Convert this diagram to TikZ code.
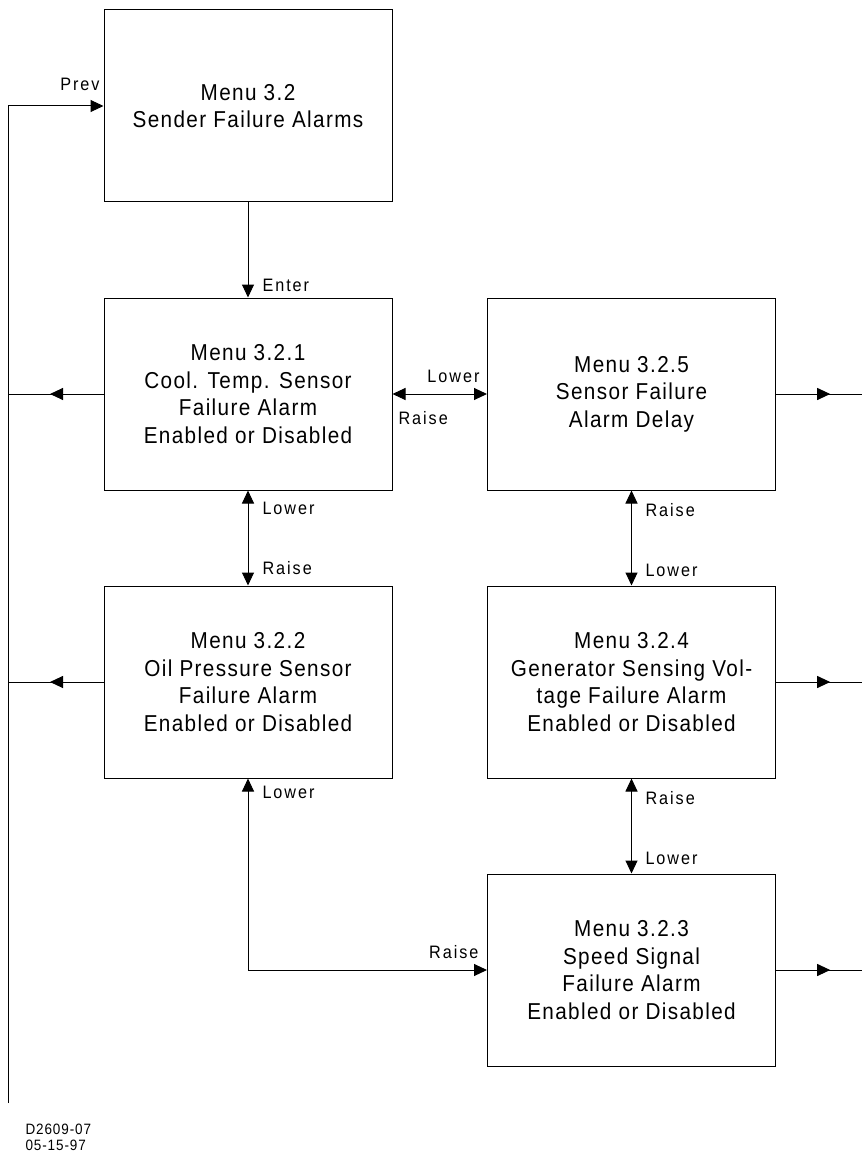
\documentclass[tikz,border=0pt]{standalone}
\usepackage{fontspec}
\usepackage{tikz}
\usetikzlibrary{arrows.meta,decorations.markings}
\newfontfamily\diagfont{Liberation Sans}[FakeStretch=0.9,LetterSpace=6]
\newfontfamily\keyfont{Liberation Sans}[FakeStretch=0.9,LetterSpace=11]

\tikzset{
  menubox/.style={draw,line width=1pt,minimum width=288pt,minimum height=192pt,inner sep=0pt,align=center,font=\diagfont\fontsize{23}{27.5}\selectfont},
  keylbl/.style={inner sep=0pt,font=\keyfont\fontsize{18}{20}\selectfont},
  outarrow/.style={decoration={markings,mark=at position #1 with {\arrow{Triangle[length=13pt,width=12pt]}}},postaction={decorate}}
}

\begin{document}
\begin{tikzpicture}[x=1pt,y=-1pt,line width=1pt,>={Triangle[length=13pt,width=12pt]}]
  \useasboundingbox (0,0) rectangle (862,1158);
  \node[menubox] (m32) at (248,106) {Menu 3.2\\Sender Failure Alarms};
  \node[menubox] (m321) at (248,394) {Menu 3.2.1\\Cool. Temp. Sensor\\Failure Alarm\\Enabled or Disabled};
  \node[menubox] (m322) at (248,682) {Menu 3.2.2\\Oil Pressure Sensor\\Failure Alarm\\Enabled or Disabled};
  \node[menubox] (m325) at (631.5,394) {Menu 3.2.5\\Sensor Failure\\Alarm Delay};
  \node[menubox] (m324) at (631.5,682) {Menu 3.2.4\\Generator Sensing Vol-\\tage Failure Alarm\\Enabled or Disabled};
  \node[menubox] (m323) at (631.5,970) {Menu 3.2.3\\Speed Signal\\Failure Alarm\\Enabled or Disabled};
  \coordinate (prevtop) at (8,106);
  \coordinate (prevbot) at (8,1103);
  \coordinate (rightedge) at (862,0);
  \draw[->] (prevbot) -- (prevtop) -- (m32.west);
  \node[keylbl,anchor=east] (lprev) at (100,84) {Prev};
  \draw[->] (m32.south) -- (m321.north);
  \node[keylbl,anchor=west] (lenter) at (262,285) {Enter};
  \draw[outarrow=0.56] (m321.west) -- (m321.west -| prevtop);
  \draw[outarrow=0.56] (m322.west) -- (m322.west -| prevtop);
  \draw[outarrow=0.63] (m325.east) -- (m325.east -| rightedge);
  \draw[outarrow=0.63] (m324.east) -- (m324.east -| rightedge);
  \draw[outarrow=0.63] (m323.east) -- (m323.east -| rightedge);
  \draw[<->] (m321.south) -- (m322.north);
  \node[keylbl,anchor=west] (llower1) at (262,508) {Lower};
  \node[keylbl,anchor=west] (lraise1) at (262,568) {Raise};
  \draw[<->] (m321.east) -- (m325.west);
  \node[keylbl,anchor=east] (llower2) at (480,376) {Lower};
  \node[keylbl,anchor=west] (lraise2) at (398,418) {Raise};
  \draw[<->] (m325.south) -- (m324.north);
  \node[keylbl,anchor=west] (lraise3) at (645,510) {Raise};
  \node[keylbl,anchor=west] (llower3) at (645,570) {Lower};
  \draw[<->] (m324.south) -- (m323.north);
  \node[keylbl,anchor=west] (lraise4) at (645,798) {Raise};
  \node[keylbl,anchor=west] (llower4) at (645,858) {Lower};
  \draw[<->] (m322.south) |- (m323.west);
  \node[keylbl,anchor=west] (llower5) at (262,792) {Lower};
  \node[keylbl,anchor=east] (lraise5) at (479,952) {Raise};
  \node[keylbl,anchor=north west,align=left,font=\diagfont\fontsize{15}{16}\selectfont] (drawno) at (25,1124) {D2609-07\\05-15-97};
\end{tikzpicture}
\end{document}
